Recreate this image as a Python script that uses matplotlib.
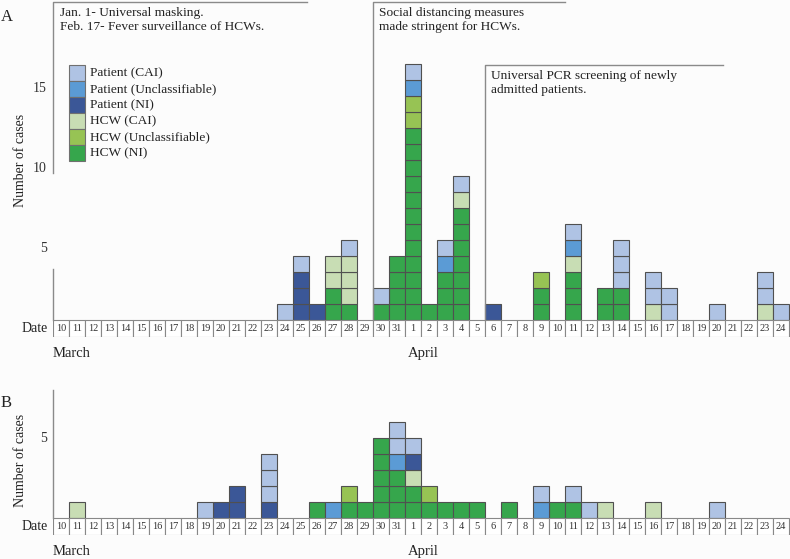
import numpy as np
import matplotlib
matplotlib.use('Agg')
import matplotlib.pyplot as plt
from matplotlib.patches import Rectangle

plt.rcParams['font.family'] = ['Liberation Serif', 'DejaVu Serif']

# dates: March 10-31, April 1-24
day_labels = [str(d) for d in range(10, 32)] + [str(d) for d in range(1, 25)]

categories = ['HCW (NI)', 'HCW (Unclassifiable)', 'HCW (CAI)',
              'Patient (NI)', 'Patient (Unclassifiable)', 'Patient (CAI)']
colors = {'HCW (NI)': '#36a64c', 'HCW (Unclassifiable)': '#97c354',
          'HCW (CAI)': '#c8ddb4', 'Patient (NI)': '#3b5797',
          'Patient (Unclassifiable)': '#5b9bd5', 'Patient (CAI)': '#afc3e4'}

def by_day(d):
    # d: {label: count}, keys like 'M25' (March) or 'A3' (April)
    out = np.zeros(len(day_labels), dtype=int)
    for k, v in d.items():
        day = int(k[1:])
        i = day - 10 if k[0] == 'M' else 22 + day - 1
        out[i] = v
    return out

# panel A counts
a_hcw_ni = by_day({'M27': 2, 'M28': 1, 'M30': 1, 'M31': 4, 'A1': 12, 'A2': 1, 'A3': 3,
                   'A4': 7, 'A9': 2, 'A11': 3, 'A13': 2, 'A14': 2})
a_hcw_un = by_day({'A1': 2, 'A9': 1})
a_hcw_cai = by_day({'M27': 2, 'M28': 3, 'A4': 1, 'A11': 1, 'A16': 1, 'A23': 1})
a_pat_ni = by_day({'M25': 3, 'M26': 1, 'A6': 1})
a_pat_un = by_day({'A1': 1, 'A3': 1, 'A11': 1})
a_pat_cai = by_day({'M24': 1, 'M25': 1, 'M28': 1, 'M30': 1, 'A1': 1, 'A3': 1, 'A4': 1,
                    'A11': 1, 'A14': 3, 'A16': 2, 'A17': 2, 'A20': 1, 'A23': 2, 'A24': 1})

# panel B counts
b_hcw_ni = by_day({'M26': 1, 'M28': 1, 'M29': 1, 'M30': 5, 'M31': 3, 'A1': 2, 'A2': 1,
                   'A3': 1, 'A4': 1, 'A5': 1, 'A7': 1, 'A10': 1, 'A11': 1})
b_hcw_un = by_day({'M28': 1, 'A2': 1})
b_hcw_cai = by_day({'M11': 1, 'A1': 1, 'A13': 1, 'A16': 1})
b_pat_ni = by_day({'M20': 1, 'M21': 2, 'M23': 1, 'A1': 1})
b_pat_un = by_day({'M27': 1, 'M31': 1, 'A9': 1})
b_pat_cai = by_day({'M19': 1, 'M23': 3, 'M31': 2, 'A1': 1, 'A9': 1, 'A11': 1, 'A12': 1, 'A20': 1})

W, H = 790, 559
fig = plt.figure(figsize=(7.9, 5.59), dpi=100)
fig.patch.set_facecolor('#fcfcfc')

def make_ax(top_px, base_px, bottom_px):
    # 1 data unit = 16 px
    u = 16.0
    ax = fig.add_axes([53 / W, 1 - bottom_px / H, (W - 53) / W, (bottom_px - top_px) / H])
    ax.set_xlim(0, (W - 53) / u)
    ax.set_ylim(-(bottom_px - base_px) / u, (base_px - top_px) / u)
    ax.axis('off')
    return ax

def draw_panel(ax, series, ticks, ticklabels):
    x = np.arange(len(day_labels))
    bottom = np.zeros(len(day_labels))
    for cat, vals in zip(categories, series):
        for i in x:
            for k in range(vals[i]):
                ax.add_patch(Rectangle((i, bottom[i] + k), 1, 1, facecolor=colors[cat],
                                       edgecolor='#505050', linewidth=0.8))
        bottom += vals
    # date row
    for i, lab in enumerate(day_labels):
        ax.add_patch(Rectangle((i, -1.06), 1, 1.06, facecolor='white',
                               edgecolor='#888888', linewidth=0.8))
        ax.text(i + 0.5, -0.53, lab, ha='center', va='center', fontsize=7.5, color='#333333')
    ax.text(-0.35, -0.53, 'Date', ha='right', va='center', fontsize=10, color='#222222')
    ax.text(0, -2.1, 'March', ha='left', va='center', fontsize=10.5, color='#222222')
    ax.text(22.2, -2.1, 'April', ha='left', va='center', fontsize=10.5, color='#222222')
    for t, l in zip(ticks, ticklabels):
        ax.text(-0.4, t, l, ha='right', va='center', fontsize=10, color='#333333')

line_kw = dict(color='#8a8a8a', linewidth=1.0, clip_on=False)

# ---- panel A ----
axA = make_ax(0, 320, 337)
draw_panel(axA, [a_hcw_ni, a_hcw_un, a_hcw_cai, a_pat_ni, a_pat_un, a_pat_cai],
           [4.5, 9.5, 14.5], ['5', '10', '15'])
top = 320 / 16
axA.plot([0, 0], [0, 3.2], **line_kw)
axA.plot([0, 0, 15.9], [9.2, top - 0.12, top - 0.12], **line_kw)
axA.text(0.45, top - 0.42, 'Jan. 1- Universal masking.\nFeb. 17- Fever surveillance of HCWs.',
         ha='left', va='top', fontsize=9.6, color='#222222', linespacing=1.3)
axA.plot([20, 20, 32.0], [0, top - 0.12, top - 0.12], **line_kw)
axA.text(20.35, top - 0.42, 'Social distancing measures\nmade stringent for HCWs.',
         ha='left', va='top', fontsize=9.6, color='#222222', linespacing=1.3)
axA.plot([27, 27, 41.9], [0, (320 - 65) / 16, (320 - 65) / 16], **line_kw)
axA.text(27.35, (320 - 65) / 16 - 0.3, 'Universal PCR screening of newly\nadmitted patients.',
         ha='left', va='top', fontsize=9.6, color='#222222', linespacing=1.3)
axA.text(-3.25, top - 1.05, 'A', ha='left', va='center', fontsize=12, color='#222222')
axA.text(-2.0, 10, 'Number of cases', rotation=90, ha='center', va='center',
         fontsize=10, color='#222222')

# legend
leg_top = (320 - 65) / 16
for j, cat in enumerate(categories[::-1]):
    y0 = leg_top - (j + 1)
    axA.add_patch(Rectangle((1.0, y0), 1.0, 1.0, facecolor=colors[cat],
                            edgecolor='#707070', linewidth=0.8))
    axA.text(2.3, y0 + 0.5, cat, ha='left', va='center', fontsize=9.6, color='#222222')

# ---- panel B ----
axB = make_ax(388, 518, 535)
draw_panel(axB, [b_hcw_ni, b_hcw_un, b_hcw_cai, b_pat_ni, b_pat_un, b_pat_cai],
           [5], ['5'])
axB.plot([0, 0], [0, 8.0], **line_kw)
axB.text(-3.25, 7.2, 'B', ha='left', va='center', fontsize=12, color='#222222')
axB.text(-2.0, 3.6, 'Number of cases', rotation=90, ha='center', va='center',
         fontsize=10, color='#222222')

fig.savefig('out.png', dpi=100, facecolor=fig.get_facecolor())
